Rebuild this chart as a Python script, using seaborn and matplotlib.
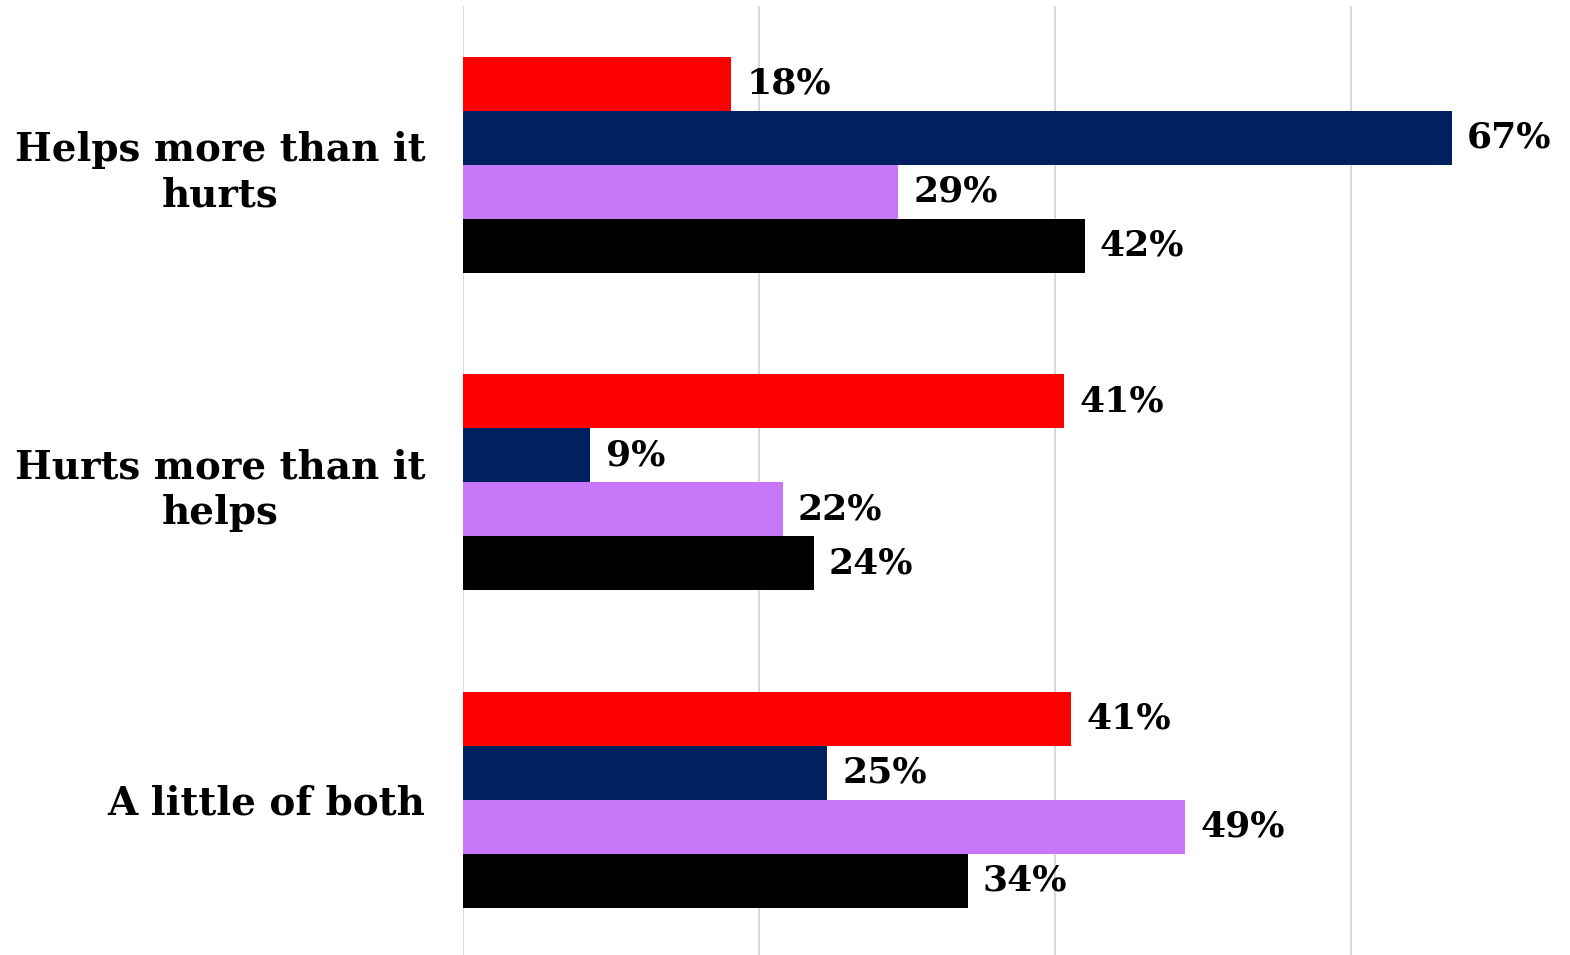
import pandas as pd
import seaborn as sns
import matplotlib.pyplot as plt

categories = ["Helps more than it\nhurts", "Hurts more than it\nhelps", "A little of both"]
groups = ["Group 1", "Group 2", "Group 3", "Group 4"]
group1 = [18.1, 40.6, 41.1]
group2 = [66.8, 8.6, 24.6]
group3 = [29.4, 21.6, 48.8]
group4 = [42.0, 23.7, 34.1]
colors = ["#FF0000", "#002060", "#C777F8", "#000000"]

rows = []
for g, vals in zip(groups, [group1, group2, group3, group4]):
    for c, v in zip(categories, vals):
        rows.append({"category": c, "group": g, "value": v})
df = pd.DataFrame(rows)

sns.set_style("white")
plt.rcParams['font.family'] = ['DejaVu Serif']
plt.rcParams['font.weight'] = 'bold'
plt.rcParams['text.color'] = 'black'
plt.rcParams['ytick.color'] = 'black'

fig = plt.figure(figsize=(15.7, 9.55), dpi=100)
ax = fig.add_axes([463 / 1570, -0.004, 1 - 463 / 1570, 0.998])
sns.barplot(data=df, y="category", x="value", hue="group", palette=colors,
            orient="h", width=0.68, legend=False, ax=ax, saturation=1,
            linewidth=0)

for cont in ax.containers:
    ax.bar_label(cont, labels=[f"{v:.0f}%" for v in cont.datavalues],
                 padding=11, fontsize=26, fontweight="bold", color="black")

ax.set_xlim(0, 74.8)
ax.set_xticks([0, 20, 40, 60])
ax.set_xticklabels([])
ax.grid(axis="x", color="#d9d9d9", linewidth=1.5)
ax.set_axisbelow(True)
sns.despine(ax=ax, left=True, bottom=True)
ax.set_xlabel("")
ax.set_ylabel("")
ax.tick_params(axis="y", length=0, pad=27, labelsize=28)
for lbl in ax.get_yticklabels():
    lbl.set_multialignment("center")
    lbl.set_fontweight("bold")
    lbl.set_linespacing(1.25)

fig.savefig("out.png", dpi=100)
